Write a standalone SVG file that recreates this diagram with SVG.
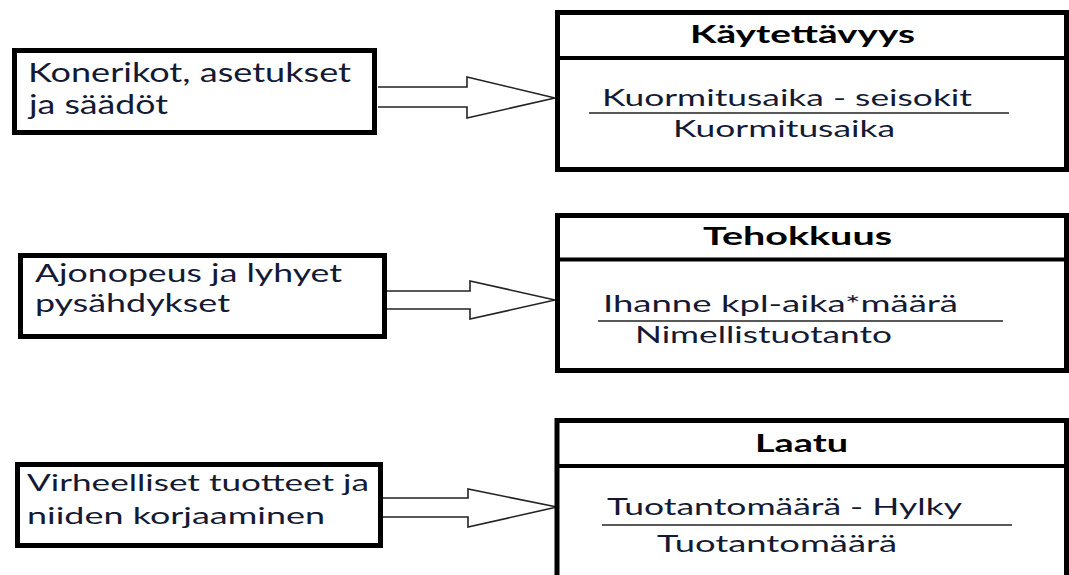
<svg xmlns="http://www.w3.org/2000/svg" width="1069" height="575" viewBox="0 0 1069 575">
<style>
.box{fill:#fff;stroke:#000;stroke-width:5}
.div{stroke:#000;stroke-width:4}
.frac{stroke:#222;stroke-width:1.6}
.arrow{fill:#fff;stroke:#222;stroke-width:1.6;stroke-linejoin:miter}
.t{font-family:Lato,"Open Sans","Noto Sans",sans-serif;fill:#141a33}
.rt{font-size:23px}
.ttl{font-family:Lato,"Open Sans","Noto Sans",sans-serif;font-weight:bold;font-size:24px;fill:#000}
</style>
<rect width="1069" height="575" fill="#fff"/>
<g id="connectors">
<path class="arrow" d="M378 87 H467 V77 L555 98 L467 118 V107 H378"/>
<path class="arrow" d="M387 291 H470 V281 L555 300 L470 319 V309 H387"/>
<path class="arrow" d="M381 498 H468 V489 L557 507 L468 527 V517 H381"/>
</g>
<g id="src1">
<rect class="box" x="14.5" y="50.5" width="360" height="82"/>
<text class="t" font-size="26.5" x="28" y="82" textLength="323" lengthAdjust="spacingAndGlyphs">Konerikot, asetukset</text>
<text class="t" font-size="26.5" x="29" y="114" textLength="139" lengthAdjust="spacingAndGlyphs">ja säädöt</text>
</g>
<g id="src2">
<rect class="box" x="20.5" y="255.5" width="364" height="81"/>
<text class="t" font-size="24.5" x="35" y="282" textLength="307" lengthAdjust="spacingAndGlyphs">Ajonopeus ja lyhyet</text>
<text class="t" font-size="24.5" x="35" y="312" textLength="195" lengthAdjust="spacingAndGlyphs">pysähdykset</text>
</g>
<g id="src3">
<rect class="box" x="17.5" y="464.5" width="363" height="81"/>
<text class="t" font-size="24" x="27" y="491" textLength="342" lengthAdjust="spacingAndGlyphs">Virheelliset tuotteet ja</text>
<text class="t" font-size="24" x="27" y="524" textLength="298" lengthAdjust="spacingAndGlyphs">niiden korjaaminen</text>
</g>
<g id="kaytettavyys">
<rect class="box" x="557.5" y="12.5" width="509" height="157"/>
<line class="div" x1="557.5" y1="58" x2="1066.5" y2="58"/>
<text class="ttl" x="690" y="43" textLength="225" lengthAdjust="spacingAndGlyphs">Käytettävyys</text>
<text class="t rt" x="602" y="106" textLength="370" lengthAdjust="spacingAndGlyphs">Kuormitusaika - seisokit</text>
<line class="frac" x1="589" y1="113" x2="1009" y2="113"/>
<text class="t rt" x="673" y="137" textLength="222" lengthAdjust="spacingAndGlyphs">Kuormitusaika</text>
</g>
<g id="tehokkuus">
<rect class="box" x="557.5" y="215.5" width="509" height="155"/>
<line class="div" x1="557.5" y1="259.5" x2="1066.5" y2="259.5"/>
<text class="ttl" x="703" y="245" textLength="189" lengthAdjust="spacingAndGlyphs">Tehokkuus</text>
<text class="t rt" x="603" y="312" textLength="355" lengthAdjust="spacingAndGlyphs">Ihanne kpl-aika*määrä</text>
<line class="frac" x1="598" y1="321" x2="1003" y2="321"/>
<text class="t rt" x="635" y="343" textLength="257" lengthAdjust="spacingAndGlyphs">Nimellistuotanto</text>
</g>
<g id="laatu">
<rect class="box" x="557" y="420.5" width="509.5" height="180"/>
<line class="div" x1="557" y1="466" x2="1066.5" y2="466"/>
<text class="ttl" x="755" y="452" textLength="93" lengthAdjust="spacingAndGlyphs">Laatu</text>
<text class="t rt" x="607" y="515" textLength="355" lengthAdjust="spacingAndGlyphs">Tuotantomäärä - Hylky</text>
<line class="frac" x1="602" y1="525" x2="1012" y2="525"/>
<text class="t rt" x="657" y="552" textLength="240" lengthAdjust="spacingAndGlyphs">Tuotantomäärä</text>
</g>
</svg>
